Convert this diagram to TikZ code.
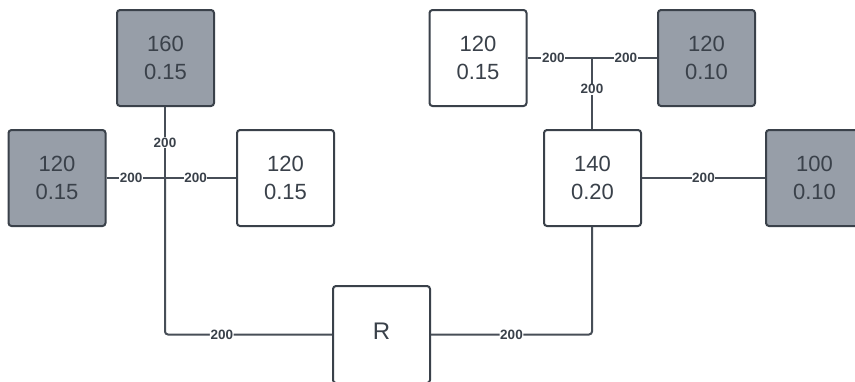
\documentclass[tikz,border=0pt]{standalone}
\usepackage{fontspec}
\setmainfont{Liberation Sans}
\definecolor{ink}{HTML}{3A414A}
\definecolor{wire}{HTML}{474E57}
\definecolor{slate}{HTML}{979EA8}
\begin{document}
\begin{tikzpicture}[x=1pt,y=-1pt,
  box/.style={draw=ink,line width=2pt,rounded corners=3pt,minimum width=97pt,
    minimum height=96pt,inner sep=0pt,align=center,text=ink,
    font=\fontsize{22}{28}\selectfont},
  dark/.style={box,fill=slate},
  light/.style={box,fill=white},
  wirestyle/.style={draw=wire,line width=2pt},
  len/.style={fill=white,inner sep=0.6pt,text=ink,font=\fontsize{13.5}{13.5}\selectfont\bfseries}]
\clip (0,0) rectangle (855,381);
\fill[white] (0,0) rectangle (855,381);
% nodes
\node[dark]  (A) at (165.5,58)  {160\\0.15};
\node[dark]  (B) at (57,178)    {120\\0.15};
\node[light] (C) at (285.5,178) {120\\0.15};
\node[light,minimum height=97pt] (R) at (381.5,334.5) {\raisebox{6pt}{\fontsize{24}{28}\selectfont R}};
\node[light] (D) at (478,58)    {120\\0.15};
\node[dark]  (E) at (706.5,58)  {120\\0.10};
\node[light] (F) at (592.5,178) {140\\0.20};
\node[dark]  (G) at (814.5,178) {100\\0.10};
% junctions
\coordinate (J1) at (165,178);
\coordinate (J2) at (592,58);
% connectors
\begin{scope}[wirestyle]
\draw (J1 |- A.south) -- node[len,pos=0.5]{200} (J1);
\draw (B.east) -- node[len,pos=0.42]{200} (J1);
\draw (J1) -- node[len,pos=0.43]{200} (C.west);
\draw[rounded corners=3pt] (J1) |- node[len,pos=0.67]{200} (R.west);
\draw[rounded corners=3pt] (R.east) -| node[len,pos=0.25]{200} (J2 |- F.south);
\draw (D.east) -- node[len,pos=0.4]{200} (J2);
\draw (J2) -- node[len,pos=0.52]{200} (E.west);
\draw (J2) -- node[len,pos=0.44]{200} (J2 |- F.north);
\draw (F.east) -- node[len,pos=0.5]{200} (G.west);
\end{scope}
\end{tikzpicture}
\end{document}
